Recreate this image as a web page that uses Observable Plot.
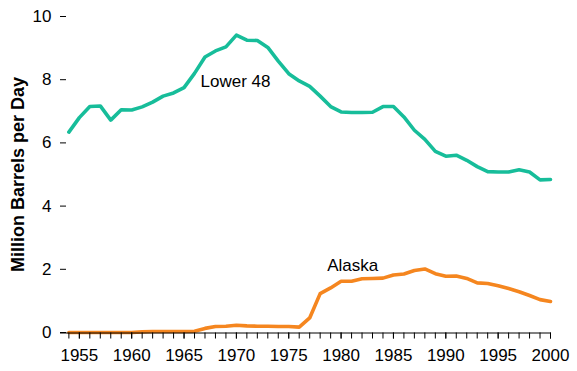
<!DOCTYPE html>
<html>
<head>
<meta charset="utf-8">
<script src="https://cdn.jsdelivr.net/npm/d3@7"></script>
<script src="https://cdn.jsdelivr.net/npm/@observablehq/plot@0.6"></script>
<style>
  html, body { margin: 0; padding: 0; background: #fff; }
  #chart svg { display: block; }
</style>
</head>
<body>
<div id="chart"></div>
<script>
const years = [1954,1955,1956,1957,1958,1959,1960,1961,1962,1963,1964,1965,1966,1967,1968,1969,
  1970,1971,1972,1973,1974,1975,1976,1977,1978,1979,1980,1981,1982,1983,1984,1985,1986,1987,
  1988,1989,1990,1991,1992,1993,1994,1995,1996,1997,1998,1999,2000];
const lower48 = [6.34,6.80,7.15,7.17,6.72,7.05,7.04,7.14,7.29,7.48,7.58,7.75,8.20,8.72,8.91,9.04,
  9.41,9.25,9.24,9.02,8.59,8.19,7.96,7.79,7.48,7.15,6.98,6.96,6.96,6.97,7.15,7.15,6.82,6.40,
  6.11,5.73,5.58,5.61,5.45,5.25,5.09,5.08,5.08,5.15,5.08,4.83,4.84];
const alaska = [0,0,0,0,0,0,0,0.02,0.03,0.03,0.03,0.03,0.04,0.13,0.19,0.20,
  0.23,0.21,0.20,0.20,0.19,0.19,0.17,0.46,1.23,1.41,1.62,1.62,1.70,1.71,1.72,1.82,1.85,1.96,
  2.01,1.86,1.78,1.79,1.71,1.57,1.55,1.48,1.39,1.29,1.17,1.04,0.98];
const seriesNames = ["Lower 48", "Alaska"];
const xTickYears = years;
const xLabelYears = [1955,1960,1965,1970,1975,1980,1985,1990,1995,2000];
const yTicks = [0,2,4,6,8,10];
const yTitle = "Million Barrels per Day";
// series label anchors (year of the series point the label is placed near)
const labelAnchorYears = [1967, 1979];

const colors = {"Lower 48": "#17bd9a", "Alaska": "#f5861f"};

const rows = [];
years.forEach((yr, i) => {
  rows.push({year: yr, value: lower48[i], series: "Lower 48"});
  rows.push({year: yr, value: alaska[i], series: "Alaska"});
});
const labelRows = seriesNames.map((s, k) => rows.find(r => r.series === s && r.year === labelAnchorYears[k]));

const font = "Arial, 'Liberation Sans', sans-serif";

const chart = Plot.plot({
  width: 577,
  height: 371,
  marginLeft: 60,
  marginRight: 27,
  marginTop: 16,
  marginBottom: 39,
  style: {fontFamily: font, fontSize: "17px", color: "#000", background: "#fff"},
  x: {domain: [1953.2, 2000]},
  y: {domain: [0, 10]},
  marks: [
    Plot.line(rows.filter(d => d.series === "Lower 48"), {x: "year", y: "value", stroke: colors["Lower 48"], strokeWidth: 3.6, strokeLinejoin: "round"}),
    Plot.line(rows.filter(d => d.series === "Alaska"), {x: "year", y: "value", stroke: colors["Alaska"], strokeWidth: 3.6, strokeLinejoin: "round"}),
    Plot.ruleY([0], {stroke: "#000", strokeWidth: 1, dy: 0.5}),
    Plot.axisX({ticks: xTickYears, tickSize: 6, tickFormat: () => "", label: null, stroke: "#000", dy: 0.5}),
    Plot.axisX({ticks: xLabelYears, tickSize: 6, tickPadding: 10, tickFormat: d => String(d), label: null, fontSize: 17, fill: "#000", stroke: "#000", dy: 0.5}),
    Plot.axisY({ticks: yTicks, tickSize: 6, dx: 6, tickPadding: 9, label: null, fontSize: 17, fill: "#000", stroke: "#000"}),
    Plot.text([labelRows[0]], {x: "year", y: "value", text: "series", textAnchor: "start", dx: -4.5, dy: 25, fontSize: 17, fill: "#000"}),
    Plot.text([labelRows[1]], {x: "year", y: "value", text: "series", textAnchor: "start", dx: -3.5, dy: -22.7, fontSize: 17, fill: "#000"}),
    Plot.text([yTitle], {frameAnchor: "left", textAnchor: "middle", lineAnchor: "middle", rotate: -90, dx: -42.5, fontSize: 18, fontWeight: "bold", fill: "#000"})
  ]
});
document.getElementById("chart").appendChild(chart);
</script>
</body>
</html>
